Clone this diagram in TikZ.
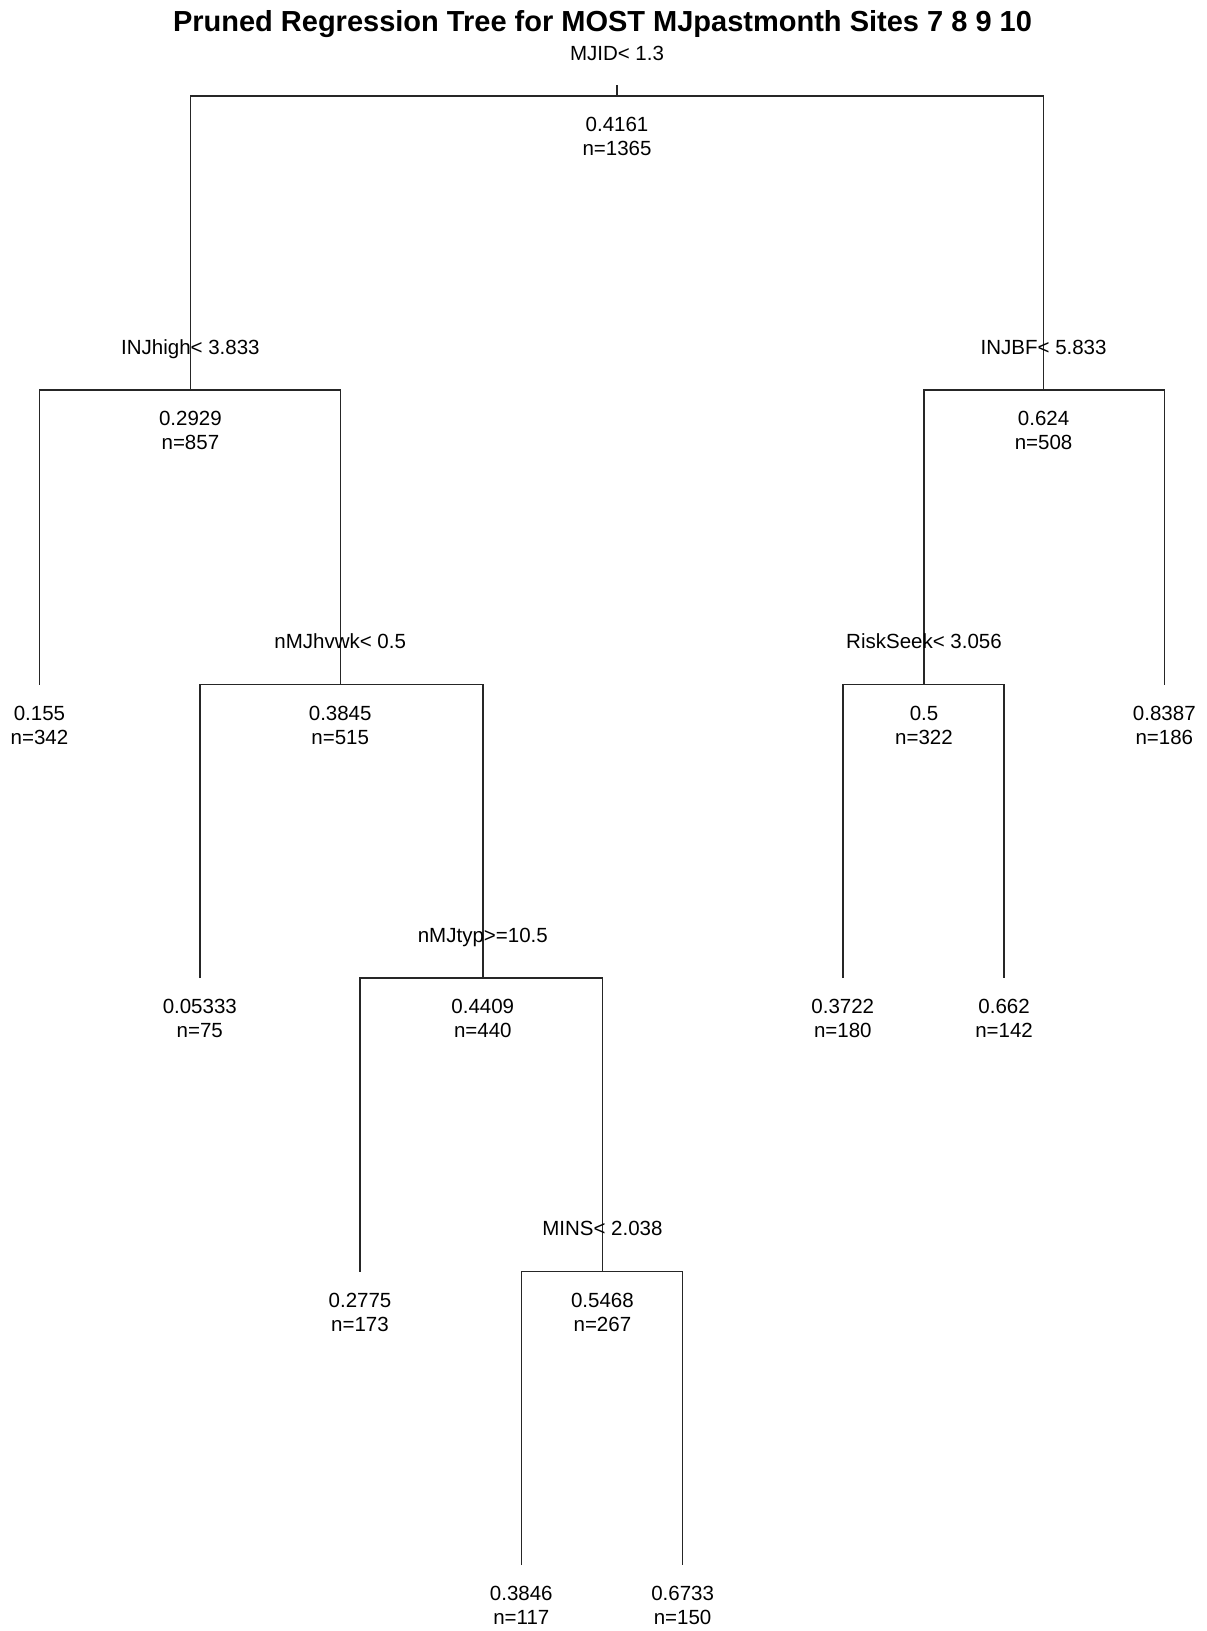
\documentclass[tikz,border=0pt]{standalone}
\usepackage{fontspec}
\setmainfont{Liberation Sans}
\begin{document}
\begin{tikzpicture}[x=1pt,y=-1pt,
  edge/.style={line width=1.4pt,black!85},
  txt/.style={font=\fontsize{20.5}{22}\selectfont,anchor=base,inner sep=0pt},
  ttl/.style={font=\fontsize{29}{31}\selectfont\bfseries,anchor=base,inner sep=0pt}]
\useasboundingbox (0,0) rectangle (1207,1631);
\fill[white] (0,0) rectangle (1207,1631);
% node positions
\coordinate (root) at (617,96);
\coordinate (A) at (190.4,390);
\coordinate (B) at (1043.6,390);
\coordinate (A1) at (39.5,684.5);
\coordinate (A2) at (340.2,684.5);
\coordinate (A21) at (199.8,978);
\coordinate (A22) at (482.8,978);
\coordinate (A221) at (360,1271.5);
\coordinate (A222) at (602.4,1271.5);
\coordinate (A2221) at (521.3,1565);
\coordinate (A2222) at (682.6,1565);
\coordinate (B1) at (924,684.5);
\coordinate (B2) at (1164.3,684.5);
\coordinate (B11) at (842.8,978);
\coordinate (B12) at (1004.1,978);
\coordinate (rtop) at (617,85);
% title
\node[ttl] (title) at (602.5,31) {Pruned Regression Tree for MOST MJpastmonth Sites 7 8 9 10};
% edges
\draw[edge] (rtop) -- (root);
\draw[edge] (A) -- (A |- root) -- (B |- root) -- (B);
\draw[edge] (A1) -- (A1 |- A) -- (A2 |- A) -- (A2);
\draw[edge] (A21) -- (A21 |- A2) -- (A22 |- A2) -- (A22);
\draw[edge] (A221) -- (A221 |- A22) -- (A222 |- A22) -- (A222);
\draw[edge] (A2221) -- (A2221 |- A222) -- (A2222 |- A222) -- (A2222);
\draw[edge] (B1) -- (B1 |- B) -- (B2 |- B) -- (B2);
\draw[edge] (B11) -- (B11 |- B1) -- (B12 |- B1) -- (B12);
% split labels
\node[txt] (sroot) at ([yshift=36pt]root) {MJID< 1.3};
\node[txt] (sA) at ([yshift=36pt]A) {INJhigh< 3.833};
\node[txt] (sB) at ([yshift=36pt]B) {INJBF< 5.833};
\node[txt] (sA2) at ([yshift=36pt]A2) {nMJhvwk< 0.5};
\node[txt] (sA22) at ([yshift=36pt]A22) {nMJtyp>=10.5};
\node[txt] (sA222) at ([yshift=36pt]A222) {MINS< 2.038};
\node[txt] (sB1) at ([yshift=36pt]B1) {RiskSeek< 3.056};
% values
\foreach \c/\v/\n in {root/0.4161/1365, A/0.2929/857, B/0.624/508, A1/0.155/342,
  A2/0.3845/515, A21/0.05333/75, A22/0.4409/440, A221/0.2775/173, A222/0.5468/267,
  A2221/0.3846/117, A2222/0.6733/150, B1/0.5/322, B2/0.8387/186, B11/0.3722/180,
  B12/0.662/142}{
  \node[txt] (v\c) at ([yshift=-35.5pt]\c) {\v};
  \node[txt] (n\c) at ([yshift=-59.5pt]\c) {n=\n};
}
\end{tikzpicture}
\end{document}
